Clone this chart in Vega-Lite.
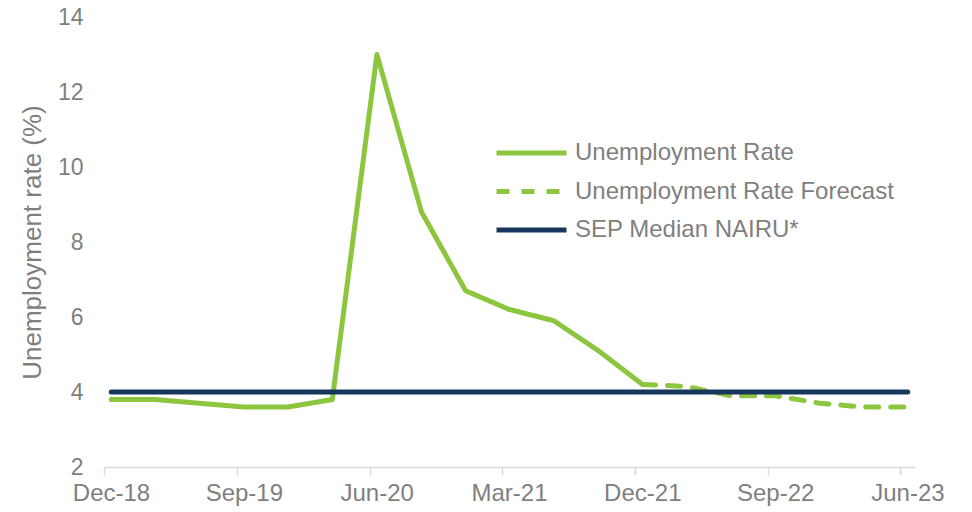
{
  "$schema": "https://vega.github.io/schema/vega-lite/v6.json",
  "autosize": {"type": "none"},
  "width": 811,
  "height": 450,
  "padding": {"left": 104, "top": 17, "right": 57, "bottom": 45},
  "background": "white",
  "config": {
    "view": {"stroke": null},
    "font": "Liberation Sans",
    "axis": {"labelFont": "Liberation Sans", "titleFont": "Liberation Sans", "labelColor": "#7F7F7F", "titleColor": "#7F7F7F", "grid": false}
  },
  "data": {"values": [
    {"date": "2018-12-16", "value": 3.8, "series": "Unemployment Rate"},
    {"date": "2019-03-16", "value": 3.8, "series": "Unemployment Rate"},
    {"date": "2019-06-16", "value": 3.7, "series": "Unemployment Rate"},
    {"date": "2019-09-16", "value": 3.6, "series": "Unemployment Rate"},
    {"date": "2019-12-16", "value": 3.6, "series": "Unemployment Rate"},
    {"date": "2020-03-16", "value": 3.8, "series": "Unemployment Rate"},
    {"date": "2020-06-16", "value": 13.0, "series": "Unemployment Rate"},
    {"date": "2020-09-16", "value": 8.8, "series": "Unemployment Rate"},
    {"date": "2020-12-16", "value": 6.7, "series": "Unemployment Rate"},
    {"date": "2021-03-16", "value": 6.2, "series": "Unemployment Rate"},
    {"date": "2021-06-16", "value": 5.9, "series": "Unemployment Rate"},
    {"date": "2021-09-16", "value": 5.1, "series": "Unemployment Rate"},
    {"date": "2021-12-16", "value": 4.2, "series": "Unemployment Rate"},
    {"date": "2021-12-16", "value": 4.2, "series": "Unemployment Rate Forecast"},
    {"date": "2022-03-16", "value": 4.15, "series": "Unemployment Rate Forecast"},
    {"date": "2022-06-16", "value": 3.9, "series": "Unemployment Rate Forecast"},
    {"date": "2022-09-16", "value": 3.9, "series": "Unemployment Rate Forecast"},
    {"date": "2022-12-16", "value": 3.7, "series": "Unemployment Rate Forecast"},
    {"date": "2023-03-16", "value": 3.6, "series": "Unemployment Rate Forecast"},
    {"date": "2023-06-16", "value": 3.6, "series": "Unemployment Rate Forecast"},
    {"date": "2018-12-16", "value": 4.0, "series": "SEP Median NAIRU*"},
    {"date": "2023-06-16", "value": 4.0, "series": "SEP Median NAIRU*"}
  ]},
  "encoding": {
    "x": {
      "field": "date", "type": "temporal",
      "scale": {"type": "utc", "domain": [{"year": 2018, "month": 12, "date": 1, "utc": true}, {"year": 2023, "month": 7, "date": 1, "utc": true}]},
      "axis": {
        "title": null,
        "values": [
          {"year": 2018, "month": 12, "date": 1, "utc": true},
          {"year": 2019, "month": 9, "date": 1, "utc": true},
          {"year": 2020, "month": 6, "date": 1, "utc": true},
          {"year": 2021, "month": 3, "date": 1, "utc": true},
          {"year": 2021, "month": 12, "date": 1, "utc": true},
          {"year": 2022, "month": 9, "date": 1, "utc": true},
          {"year": 2023, "month": 6, "date": 1, "utc": true}
        ],
        "format": "%b-%y",
        "labelFontSize": 24,
        "labelOffset": 7,
        "labelFlush": false,
        "labelOverlap": false,
        "labelPadding": 6,
        "tickSize": 8,
        "tickColor": "#D9D9D9",
        "tickWidth": 1.5,
        "domainColor": "#D9D9D9",
        "domainWidth": 1.5
      }
    },
    "y": {
      "field": "value", "type": "quantitative",
      "scale": {"domain": [2, 14], "nice": false, "zero": false},
      "axis": {
        "title": "Unemployment rate (%)",
        "titleFontSize": 26,
        "titleFontWeight": "normal",
        "titlePadding": 12,
        "values": [2, 4, 6, 8, 10, 12, 14],
        "labelFontSize": 23,
        "labelPadding": 21,
        "ticks": false,
        "domain": false
      }
    },
    "color": {
      "field": "series", "type": "nominal",
      "scale": {"domain": ["Unemployment Rate", "Unemployment Rate Forecast", "SEP Median NAIRU*"], "range": ["#8CC63E", "#8CC63E", "#17365D"]},
      "legend": {
        "title": null,
        "orient": "none",
        "legendX": 390,
        "legendY": 124,
        "symbolType": "stroke",
        "symbolSize": 4900,
        "symbolStrokeWidth": 5,
        "clipHeight": 24,
        "labelFontSize": 24,
        "labelColor": "#7F7F7F",
        "labelFont": "Liberation Sans",
        "labelOffset": 6,
        "rowPadding": 14.5,
        "labelLimit": 400
      }
    },
    "strokeDash": {
      "field": "series", "type": "nominal",
      "scale": {"domain": ["Unemployment Rate", "Unemployment Rate Forecast", "SEP Median NAIRU*"], "range": [[1, 0], [13, 12], [1, 0]]},
      "legend": null
    }
  },
  "layer": [
    {
      "transform": [{"filter": "datum.series != 'SEP Median NAIRU*'"}],
      "mark": {"type": "line", "strokeWidth": 5, "strokeCap": "round", "strokeJoin": "round"}
    },
    {
      "transform": [{"filter": "datum.series == 'SEP Median NAIRU*'"}],
      "mark": {"type": "line", "strokeWidth": 5, "strokeCap": "round", "strokeJoin": "round"}
    }
  ]
}
